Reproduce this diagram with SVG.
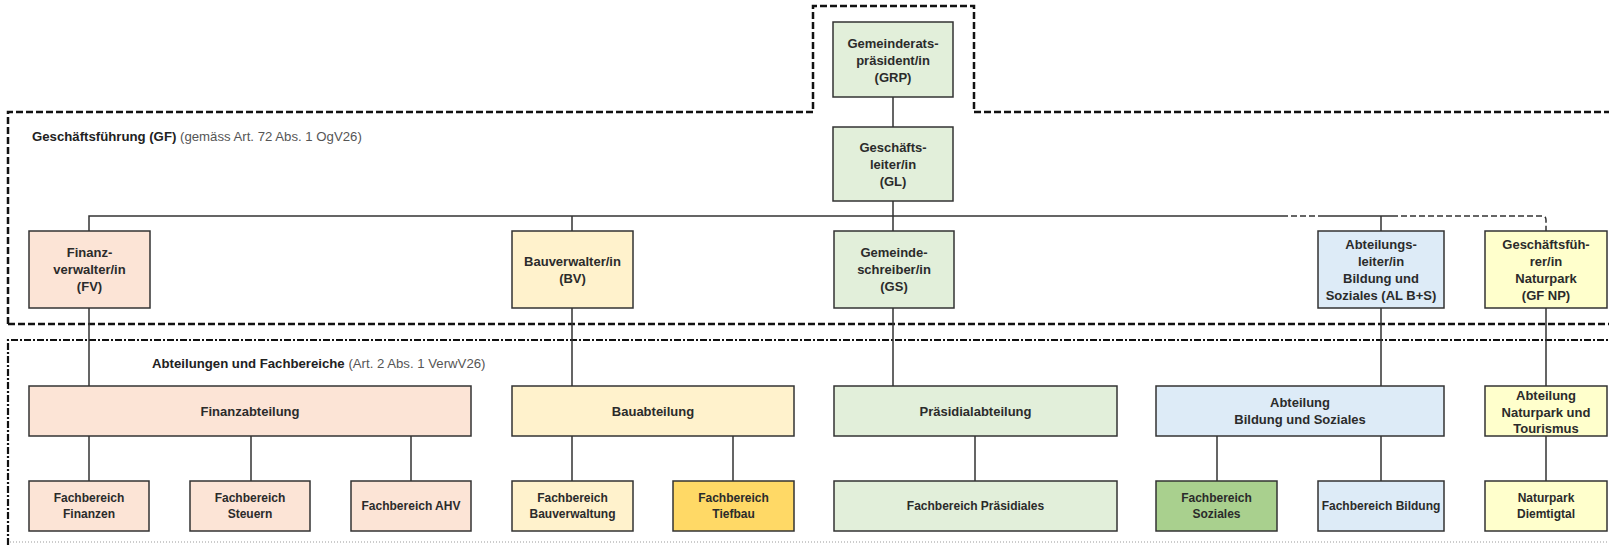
<svg xmlns="http://www.w3.org/2000/svg" width="1609" height="545" viewBox="0 0 1609 545">
<style>
.box{stroke:#333;stroke-width:1.5}
.t{font-family:"Liberation Sans",Arial,sans-serif;font-weight:bold;font-size:13px;fill:#2b2b2b;text-anchor:middle}
.s{font-size:12px}
.lbl{font-family:"Liberation Sans",Arial,sans-serif;font-size:13.2px;fill:#555}
.lbl .b{font-weight:bold;fill:#222}
.c{stroke:#333;stroke-width:1.5;fill:none}
.cd{stroke:#333;stroke-width:1.5;fill:none;stroke-dasharray:6 3}
.green{fill:#e2efda}.peach{fill:#fce4d6}.yel{fill:#fff2cc}.gold{fill:#ffd966}.blue{fill:#ddebf7}.dgreen{fill:#a9d08e}.lyel{fill:#ffffcc}
.reg1{stroke:#111;stroke-width:2.5;fill:none;stroke-dasharray:7 3}
.reg2{stroke:#111;stroke-width:2.2;fill:none;stroke-dasharray:7 2 2 2}
.reg3{stroke:#999;stroke-width:1;fill:none;stroke-dasharray:1 2}
</style>
<rect width="1609" height="545" fill="#fff"/>
<g id="regions">
<path class="reg1" d="M8,324 V112 H813 V6 H974 V112 H1609"/>
<path class="reg1" d="M8,324 H1609"/>
<path class="reg2" d="M8,545 V340 H1609"/>
<path class="reg3" d="M10,542 H1609"/>
<text class="lbl" x="32" y="141"><tspan class="b">Geschäftsführung (GF)</tspan> (gemäss Art. 72 Abs. 1 OgV26)</text>
<text class="lbl" x="152" y="368"><tspan class="b">Abteilungen und Fachbereiche</tspan> (Art. 2 Abs. 1 VerwV26)</text>
</g>
<g id="connectors">
<path class="c" d="M893,97 V127 M893,201 V231 M89,231 V216 H1282 M1320,216 H1392 M572,216 V231 M1381,216 V231"/>
<path class="cd" d="M1282,216 H1320 M1392,216 H1542 Q1546,216 1546,220 V231"/>
<path class="c" d="M89,308 V386 M572,308 V386 M893,308 V386 M1381,308 V386 M1546,308 V386"/>
<path class="c" d="M89,436 V481 M251,436 V481 M411,436 V481 M572,436 V481 M733,436 V481 M975,436 V481 M1217,436 V481 M1381,436 V481 M1546,436 V481"/>
</g>
<g id="grp"><rect class="box green" x="833" y="22" width="120" height="75"/>
<text class="t" x="893" y="47.5">Gemeinderats-</text><text class="t" x="893" y="64.5">präsident/in</text><text class="t" x="893" y="81.5">(GRP)</text></g>
<g id="gl"><rect class="box green" x="833" y="127" width="120" height="74"/>
<text class="t" x="893" y="152">Geschäfts-</text><text class="t" x="893" y="169">leiter/in</text><text class="t" x="893" y="186">(GL)</text></g>
<g id="fv"><rect class="box peach" x="29" y="231" width="121" height="77"/>
<text class="t" x="89.5" y="257">Finanz-</text><text class="t" x="89.5" y="274">verwalter/in</text><text class="t" x="89.5" y="291">(FV)</text></g>
<g id="bv"><rect class="box yel" x="512" y="231" width="121" height="77"/>
<text class="t" x="572.5" y="265.5">Bauverwalter/in</text><text class="t" x="572.5" y="282.5">(BV)</text></g>
<g id="gs"><rect class="box green" x="834" y="231" width="120" height="77"/>
<text class="t" x="894" y="257">Gemeinde-</text><text class="t" x="894" y="274">schreiber/in</text><text class="t" x="894" y="291">(GS)</text></g>
<g id="al"><rect class="box blue" x="1318" y="231" width="126" height="77"/>
<text class="t" x="1381" y="248.5">Abteilungs-</text><text class="t" x="1381" y="265.5">leiter/in</text><text class="t" x="1381" y="282.5">Bildung und</text><text class="t" x="1381" y="299.5">Soziales (AL B+S)</text></g>
<g id="gfnp"><rect class="box lyel" x="1485" y="231" width="122" height="77"/>
<text class="t" x="1546" y="248.5">Geschäftsfüh-</text><text class="t" x="1546" y="265.5">rer/in</text><text class="t" x="1546" y="282.5">Naturpark</text><text class="t" x="1546" y="299.5">(GF NP)</text></g>
<g id="finanzabteilung"><rect class="box peach" x="29" y="386" width="442" height="50"/>
<text class="t" x="250" y="415.5">Finanzabteilung</text></g>
<g id="bauabteilung"><rect class="box yel" x="512" y="386" width="282" height="50"/>
<text class="t" x="653" y="415.5">Bauabteilung</text></g>
<g id="praesidialabteilung"><rect class="box green" x="834" y="386" width="283" height="50"/>
<text class="t" x="975.5" y="415.5">Präsidialabteilung</text></g>
<g id="abt_bs"><rect class="box blue" x="1156" y="386" width="288" height="50"/>
<text class="t" x="1300" y="407">Abteilung</text><text class="t" x="1300" y="424">Bildung und Soziales</text></g>
<g id="abt_np"><rect class="box lyel" x="1485" y="386" width="122" height="50"/>
<text class="t" x="1546" y="399.5">Abteilung</text><text class="t" x="1546" y="416.5">Naturpark und</text><text class="t" x="1546" y="433">Tourismus</text></g>
<g id="fb_finanzen"><rect class="box peach" x="29" y="481" width="120" height="50"/>
<text class="t s" x="89" y="502">Fachbereich</text><text class="t s" x="89" y="518">Finanzen</text></g>
<g id="fb_steuern"><rect class="box peach" x="190" y="481" width="120" height="50"/>
<text class="t s" x="250" y="502">Fachbereich</text><text class="t s" x="250" y="518">Steuern</text></g>
<g id="fb_ahv"><rect class="box peach" x="351" y="481" width="120" height="50"/>
<text class="t s" x="411" y="510">Fachbereich AHV</text></g>
<g id="fb_bauverwaltung"><rect class="box yel" x="512" y="481" width="121" height="50"/>
<text class="t s" x="572.5" y="502">Fachbereich</text><text class="t s" x="572.5" y="518">Bauverwaltung</text></g>
<g id="fb_tiefbau"><rect class="box gold" x="673" y="481" width="121" height="50"/>
<text class="t s" x="733.5" y="502">Fachbereich</text><text class="t s" x="733.5" y="518">Tiefbau</text></g>
<g id="fb_praesidiales"><rect class="box green" x="834" y="481" width="283" height="50"/>
<text class="t s" x="975.5" y="510">Fachbereich Präsidiales</text></g>
<g id="fb_soziales"><rect class="box dgreen" x="1156" y="481" width="121" height="50"/>
<text class="t s" x="1216.5" y="502">Fachbereich</text><text class="t s" x="1216.5" y="518">Soziales</text></g>
<g id="fb_bildung"><rect class="box blue" x="1318" y="481" width="126" height="50"/>
<text class="t s" x="1381" y="510">Fachbereich Bildung</text></g>
<g id="np_diemtigtal"><rect class="box lyel" x="1485" y="481" width="122" height="50"/>
<text class="t s" x="1546" y="502">Naturpark</text><text class="t s" x="1546" y="518">Diemtigtal</text></g>
</svg>
